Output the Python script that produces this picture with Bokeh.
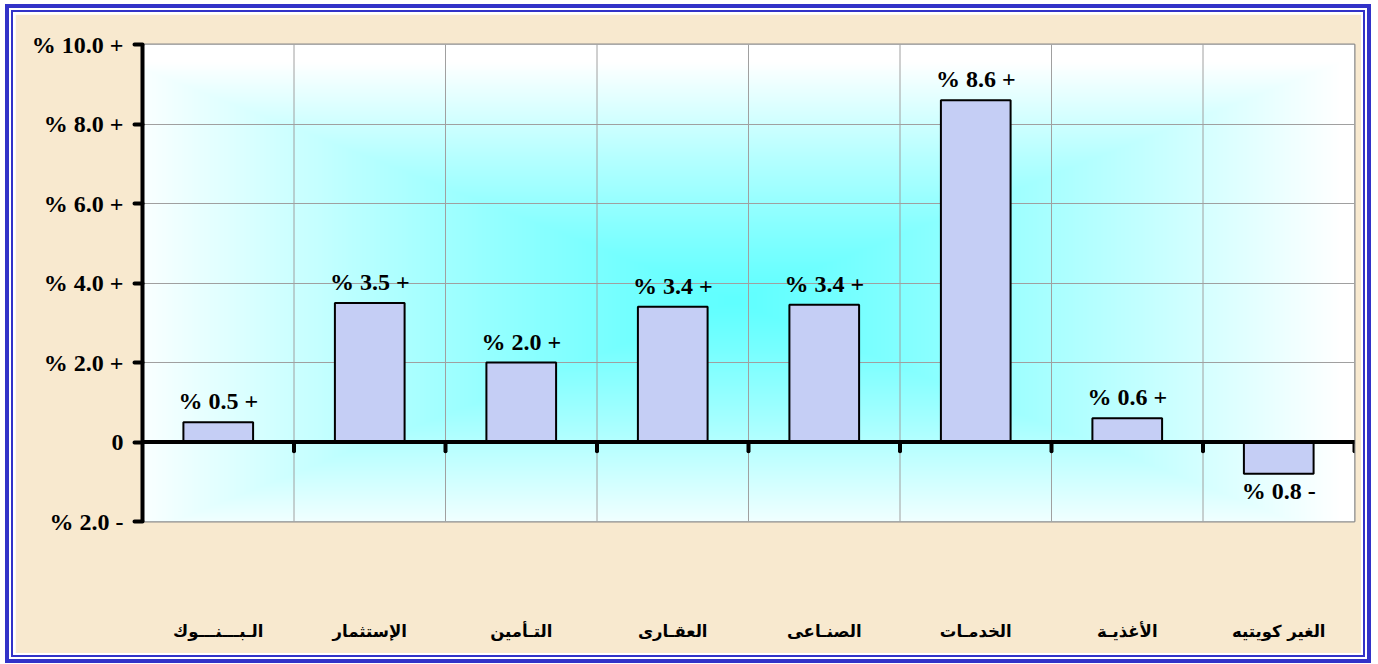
import numpy as np
from bokeh.plotting import figure
from bokeh.models import FactorRange, Range1d, FixedTicker, Span, ColumnDataSource
from bokeh.transform import dodge
from bokeh.embed import file_html
from bokeh.resources import INLINE
from bokeh.core.properties import value

# ---------------- data ----------------
categories = ["الـبـــنـــوك", "الإستثمار", "التـأمين", "العقـارى",
              "الصنـاعى", "الخدمـات", "الأغذيـة", "الغير كويتيه"]
values = [0.5, 3.5, 2.0, 3.4, 3.45, 8.6, 0.6, -0.8]
value_labels = ["% 0.5 +", "% 3.5 +", "% 2.0 +", "% 3.4 +",
                "% 3.4 +", "% 8.6 +", "% 0.6 +", "% 0.8 -"]
y_ticks = [-2, 0, 2, 4, 6, 8, 10]
y_tick_labels = ["% 2.0 -", "0", "% 2.0 +", "% 4.0 +", "% 6.0 +", "% 8.0 +", "% 10.0 +"]

# ---------------- styles ----------------
BEIGE = "#F8E9CF"
BAR = "#C5CEF5"
GRID = "#A0A0A0"
BLUE = "#3232C8"

Y0, Y1 = -2, 10
p = figure(
    x_range=FactorRange(*categories, range_padding=0, factor_padding=0),
    y_range=Range1d(Y0, Y1),
    width=1346, height=639,
    output_backend="svg", toolbar_location=None,
    min_border_left=127, min_border_right=7, min_border_top=30, min_border_bottom=132,
    border_fill_color=BEIGE, background_fill_color="white",
    outline_line_color="#8C8C8C", outline_line_width=2,
    styles={"margin": "14px 17px 5px 15px",
            "box-shadow": f"0 0 0 2px white, 0 0 0 4px {BLUE}, 0 0 0 6px white, 0 0 0 10px {BLUE}"},
)

# background "from centre" rectangular gradient (decoration) across the plot frame
n_cat = len(categories)
nx, ny = 606, 240
xs = (np.arange(nx) + 0.5) / nx * n_cat
ys = Y0 + (np.arange(ny) + 0.5) / ny * (Y1 - Y0)
X, Yg = np.meshgrid(xs, ys)
tx = np.abs(X - 3.9) / (n_cat / 2)
ty = np.abs(Yg - 3.55) / ((Y1 - Y0) / 2)
t = np.clip(np.maximum(tx, ty), 0, 1) ** 1.2
r = (0x60 + t * (255 - 0x60)).astype(np.uint32)
g = np.full_like(r, 255)
b = np.full_like(r, 255)
img = (np.uint32(255) << 24) | (b << 16) | (g << 8) | r
gr = p.image_rgba(image=[img.astype(np.uint32)], x=0, y=Y0, dw=n_cat, dh=Y1 - Y0)
gr.level = "image"

# grids
ticker = FixedTicker(ticks=y_ticks)
p.yaxis.ticker = ticker
p.ygrid.ticker = ticker
p.ygrid.grid_line_color = GRID
p.ygrid.grid_line_width = 1
p.xgrid.visible = False

src = ColumnDataSource(dict(cat=categories, val=values, lab=value_labels,
                            y0=[Y0] * n_cat, y1=[Y1] * n_cat,
                            z=[0] * n_cat, tk=[-0.23] * n_cat))
p.segment(x0=dodge("cat", 0.5, range=p.x_range), y0="y0",
          x1=dodge("cat", 0.5, range=p.x_range), y1="y1",
          source=src, line_color=GRID, line_width=1)

# bars
p.vbar(x="cat", top="val", bottom=0, width=0.46, source=src,
       fill_color=BAR, line_color="black", line_width=2)

# zero line and category tick marks
p.add_layout(Span(location=0, dimension="width", line_color="black", line_width=4))
p.segment(x0=dodge("cat", 0.5, range=p.x_range), y0="z",
          x1=dodge("cat", 0.5, range=p.x_range), y1="tk",
          source=src, line_color="black", line_width=4, line_cap="round")

# value labels
pos = ColumnDataSource(dict(cat=[c for c, v in zip(categories, values) if v >= 0],
                            val=[v for v in values if v >= 0],
                            lab=[l for l, v in zip(value_labels, values) if v >= 0]))
neg = ColumnDataSource(dict(cat=[c for c, v in zip(categories, values) if v < 0],
                            val=[v for v in values if v < 0],
                            lab=[l for l, v in zip(value_labels, values) if v < 0]))
for s, off in ((pos, -21), (neg, 17)):
    p.text(x="cat", y="val", text="lab", source=s, y_offset=off,
           text_align="center", text_baseline="alphabetic",
           text_font=value("Liberation Serif"), text_font_style="bold",
           text_font_size="24px", text_color="black")

# y axis
ya = p.yaxis[0]
ya.axis_line_color = "black"
ya.axis_line_width = 4
ya.major_tick_line_color = "black"
ya.major_tick_line_width = 4
ya.major_tick_line_cap = "round"
ya.major_tick_out = 8
ya.major_tick_in = 0
ya.minor_tick_line_color = None
ya.major_label_overrides = dict(zip(y_ticks, y_tick_labels))
ya.major_label_text_font = "Liberation Serif"
ya.major_label_text_font_style = "bold"
ya.major_label_text_font_size = "24px"
ya.major_label_text_color = "black"
ya.major_label_standoff = 11

# x axis (category names far below the frame)
xa = p.xaxis[0]
xa.axis_line_color = None
xa.major_tick_line_color = None
xa.major_tick_out = 0
xa.minor_tick_line_color = None
xa.major_label_standoff = 100
xa.major_label_text_font = "DejaVu Sans"
xa.major_label_text_font_style = "bold"
xa.major_label_text_font_size = "16.5px"
xa.major_label_text_color = "black"

open("out.html", "w").write(file_html(p, INLINE))
